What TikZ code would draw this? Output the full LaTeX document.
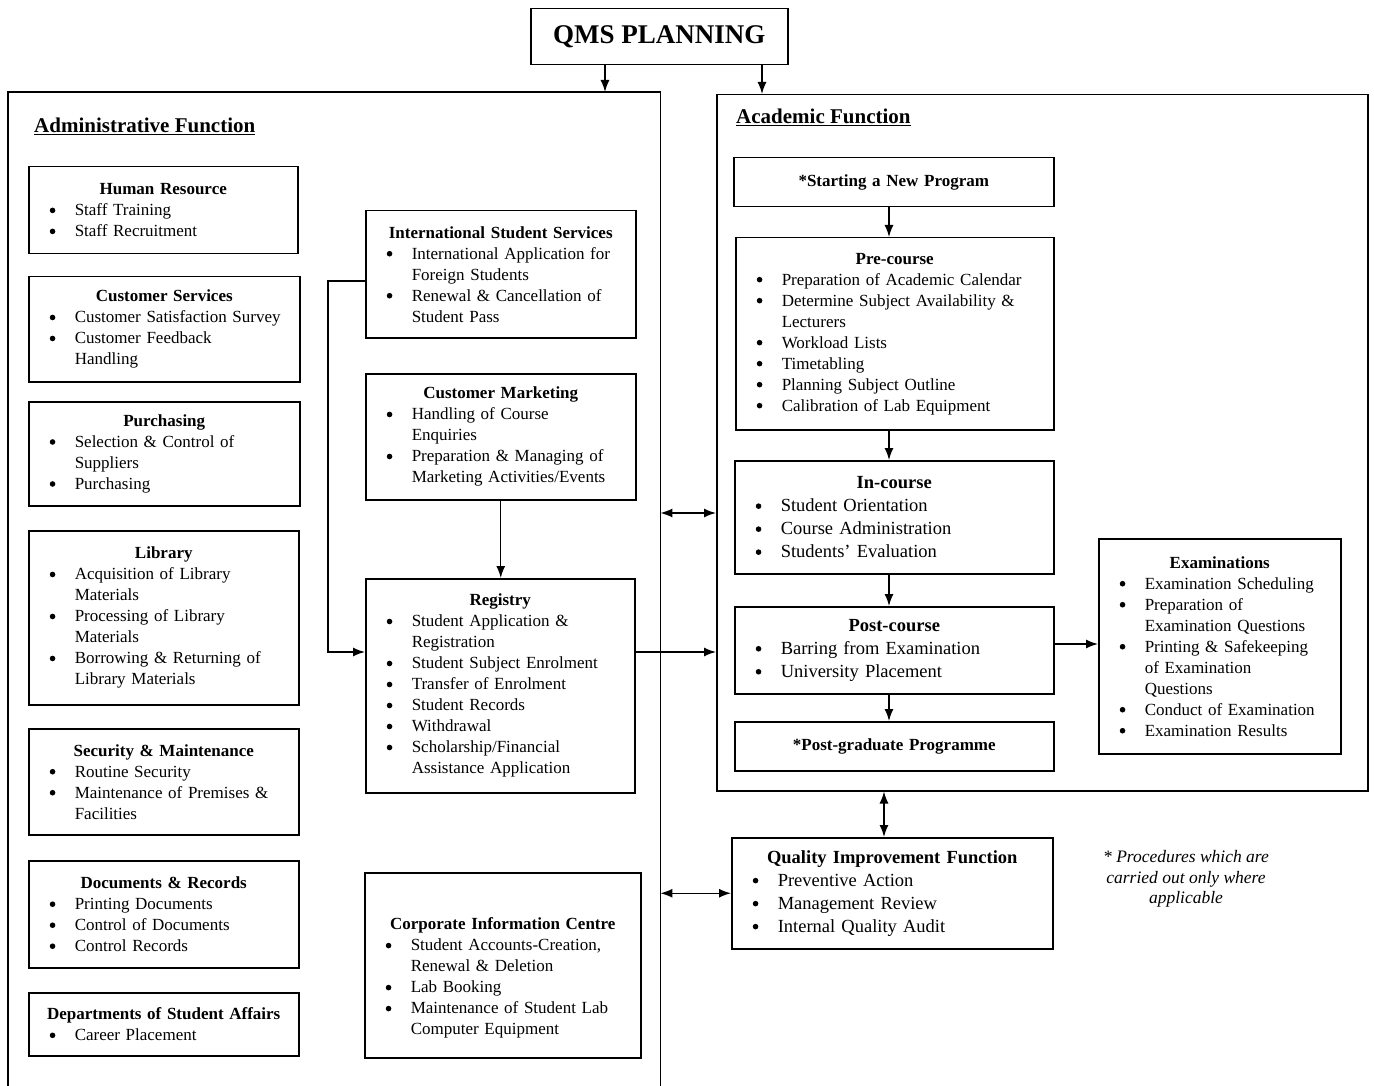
\documentclass[tikz,border=0pt]{standalone}
\usepackage{fontspec}
\setmainfont{Liberation Serif}
\usetikzlibrary{arrows.meta,calc}
\newlength\bind \newlength\tind
\setlength\bind{21pt}\setlength\tind{46pt}
\newcommand\hd[1]{{\centering\bfseries #1\par}}
\newcommand\bdot{\tikz[baseline=-0.3ex]\fill (0pt,3pt) circle[radius=2.8pt];}
\newcommand\bi[1]{\hangindent=\tind\hangafter=1\noindent\hspace*{\bind}\makebox[\dimexpr\tind-\bind\relax][l]{\bdot}#1\par}
\newcommand\mkbox[7][]{\pgfmathsetmacro\boxW{#5-#3}\pgfmathsetmacro\boxH{#6-#4}%
  \node[box,#1,text width=\boxW pt,minimum height=\boxH pt] (#2) at (#3,#4) {#7};}
\tikzset{
  box/.style={draw, line width=1.5pt, anchor=north west, inner xsep=0pt, inner ysep=2pt,
    align=left, font=\fontsize{17}{21}\selectfont},
  bigbody/.style={font=\fontsize{18.5}{23}\selectfont},
  frame/.style={line width=1.5pt},
  arr/.style={line width=1.4pt, -{Latex[length=12pt,width=9pt]}},
  darr/.style={line width=1.4pt, {Latex[length=12pt,width=9pt]}-{Latex[length=12pt,width=9pt]}},
}
\begin{document}
\begin{tikzpicture}[x=1pt,y=-1pt]
\useasboundingbox (0,0) rectangle (1374,1086);
% top
\node[draw, line width=1.5pt, anchor=north west, minimum width=257pt, minimum height=56pt,
  inner sep=0pt, font=\fontsize{27}{30}\selectfont\bfseries] (qms) at (530,8) {QMS PLANNING};
% frames
\node[anchor=north west, minimum width=652pt, minimum height=994pt, inner sep=0pt] (adm) at (8,92) {};
\draw[frame] (adm.south west) -- (adm.north west) -- (adm.north east) -- (adm.south east);
\node[draw, line width=1.5pt, anchor=north west, minimum width=651pt, minimum height=696pt, inner sep=0pt] (acad) at (716,94) {};
\node[anchor=base west, inner sep=0pt, font=\fontsize{21}{25}\selectfont\bfseries] (admt) at (34,133) {\underline{Administrative Function}};
\node[anchor=base west, inner sep=0pt, font=\fontsize{21}{25}\selectfont\bfseries] (acat) at (736,124) {\underline{Academic Function}};
% left column
\mkbox{hr}{28}{166}{297}{253}{\hd{Human Resource}\bi{Staff Training}\bi{Staff Recruitment}}
\mkbox{cs}{28}{276}{299}{381}{\hd{Customer Services}\bi{Customer Satisfaction Survey}\bi{Customer Feedback\newline Handling}}
\mkbox{pur}{28}{401}{299}{505}{\hd{Purchasing}\bi{Selection \& Control of\newline Suppliers}\bi{Purchasing}}
\mkbox{lib}{28}{530}{298}{704}{\hd{Library}\bi{Acquisition of Library\newline Materials}\bi{Processing of Library\newline Materials}\bi{Borrowing \& Returning of\newline Library Materials}}
\mkbox{sec}{28}{728}{298}{834}{\hd{Security \& Maintenance}\bi{Routine Security}\bi{Maintenance of Premises \&\newline Facilities}}
\mkbox{doc}{28}{860}{298}{967}{\hd{Documents \& Records}\bi{Printing Documents}\bi{Control of Documents}\bi{Control Records}}
\mkbox{dsa}{28}{992}{298}{1055}{\hd{Departments of Student Affairs}\bi{Career Placement}}
% middle column
\mkbox{iss}{365}{210}{635}{337}{\hd{International Student Services}\bi{International Application for\newline Foreign Students}\bi{Renewal \& Cancellation of\newline Student Pass}}
\mkbox{cm}{365}{373}{635}{499}{\hd{Customer Marketing}\bi{Handling of Course\newline Enquiries}\bi{Preparation \& Managing of\newline Marketing Activities/Events}}
\mkbox{reg}{365}{578}{634}{792}{\hd{Registry}\bi{Student Application \&\newline Registration}\bi{Student Subject Enrolment}\bi{Transfer of Enrolment}\bi{Student Records}\bi{Withdrawal}\bi{Scholarship/Financial\newline Assistance Application}}
\mkbox{cic}{364}{872}{640}{1057}{\hd{Corporate Information Centre}\bi{Student Accounts-Creation,\newline Renewal \& Deletion}\bi{Lab Booking}\bi{Maintenance of Student Lab\newline Computer Equipment}\kern-26pt}
% academic
\mkbox{snp}{733}{157}{1053}{206}{\hd{*Starting a New Program}}
\mkbox{pre}{735}{237}{1053}{429}{\hd{Pre-course}\bi{Preparation of Academic Calendar}\bi{Determine Subject Availability \&\newline Lecturers}\bi{Workload Lists}\bi{Timetabling}\bi{Planning Subject Outline}\bi{Calibration of Lab Equipment}}
\mkbox[bigbody]{inc}{734}{460}{1053}{573}{\hd{In-course}\bi{Student Orientation}\bi{Course Administration}\bi{Students’ Evaluation}}
\mkbox[bigbody]{pc}{734}{606}{1053}{693}{\hd{Post-course}\bi{Barring from Examination}\bi{University Placement}}
\mkbox{pg}{734}{721}{1053}{770}{\hd{*Post-graduate Programme}}
\mkbox{exam}{1098}{538}{1340}{753}{\hd{Examinations}\bi{Examination Scheduling}\bi{Preparation of\newline Examination Questions}\bi{Printing \& Safekeeping\newline of Examination\newline Questions}\bi{Conduct of Examination}\bi{Examination Results}}
\mkbox[bigbody]{qif}{731}{837}{1052}{948}{\hd{Quality Improvement Function}\bi{Preventive Action}\bi{Management Review}\bi{Internal Quality Audit}}
\node[align=center, font=\fontsize{17.5}{20.5}\selectfont\itshape] (note) at (1186,879) {* Procedures which are\\carried out only where\\applicable};
% helper coordinates
\coordinate (xA) at (605,0);
\coordinate (xB) at (762,0);
\coordinate (yiss) at (0,281);
\coordinate (xbend) at (328,0);
\coordinate (yreg) at (0,652);
\coordinate (ymid) at (0,513);
\coordinate (xacad) at (889,0);
\coordinate (xq) at (884,0);
\coordinate (yexam) at (0,644);
% connectors
\draw[arr] (qms.south -| xA) -- (adm.north -| xA);
\draw[arr] (qms.south -| xB) -- (acad.north -| xB);
\draw[arr] (iss.west |- yiss) -| (xbend |- yreg) -- (reg.west |- yreg);
\draw[arr] (cm.south) -- (cm.south |- reg.north);
\draw[arr] (reg.east |- yreg) -- (acad.west |- yreg);
\draw[darr] (adm.east |- ymid) -- (acad.west |- ymid);
\draw[darr] (adm.east |- qif.west) -- (qif.west);
\draw[arr] (snp.south -| xacad) -- (pre.north -| xacad);
\draw[arr] (pre.south -| xacad) -- (inc.north -| xacad);
\draw[arr] (inc.south -| xacad) -- (pc.north -| xacad);
\draw[arr] (pc.south -| xacad) -- (pg.north -| xacad);
\draw[arr] (pc.east |- yexam) -- (exam.west |- yexam);
\draw[darr] (acad.south -| xq) -- (qif.north -| xq);
\end{tikzpicture}
\end{document}
